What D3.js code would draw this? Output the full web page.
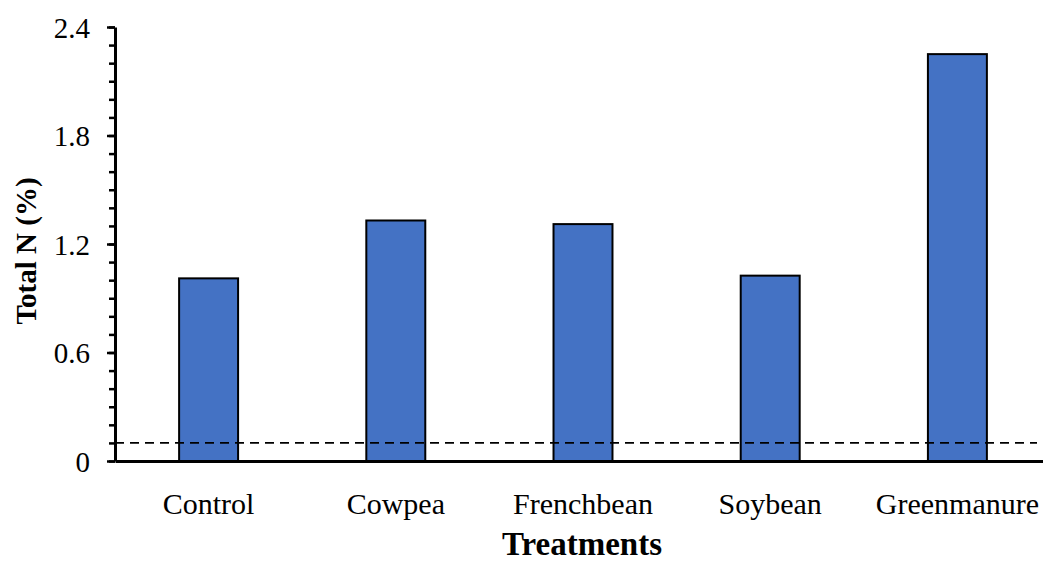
<!DOCTYPE html>
<meta charset="utf-8">
<script src="https://d3js.org/d3.v7.min.js"></script>
<style>
  body { margin: 0; background: #fff; }
  text { font-family: "Liberation Serif", "Times New Roman", serif; fill: #000; }
</style>
<div id="chart"></div>
<script>
  // data
  var treatments = ["Control", "Cowpea", "Frenchbean", "Soybean", "Greenmanure"];
  var totalN = [1.01, 1.33, 1.31, 1.025, 2.25];
  var yTicks = [0, 0.6, 1.2, 1.8, 2.4];
  var yMinorTicks = d3.range(0, 25).map(function(i) { return i / 10; });
  var threshold = 0.1;

  var W = 1043, H = 563;
  var margin = {top: 27, left: 115, bottom: 102};
  var plotW = 936, plotH = H - margin.top - margin.bottom;

  var svg = d3.select("#chart").append("svg")
      .attr("width", W)
      .attr("height", H);

  var g = svg.append("g")
      .attr("transform", "translate(" + margin.left + "," + margin.top + ")");

  var x = d3.scaleBand()
      .domain(treatments)
      .range([0, plotW])
      .paddingInner(0.685)
      .paddingOuter(0.3425);

  var y = d3.scaleLinear()
      .domain([0, 2.4])
      .range([plotH, 0]);

  // bars
  g.selectAll("rect.bar")
    .data(treatments)
    .enter()
    .append("rect")
      .attr("class", "bar")
      .attr("x", function(d) { return x(d); })
      .attr("y", function(d, i) { return y(totalN[i]); })
      .attr("width", x.bandwidth())
      .attr("height", function(d, i) { return y(0) - y(totalN[i]); })
      .style("fill", "#4472C4")
      .style("stroke", "#000")
      .style("stroke-width", 2);

  // dashed reference line
  g.append("line")
      .attr("x1", 0)
      .attr("x2", 922)
      .attr("y1", y(threshold))
      .attr("y2", y(threshold))
      .style("stroke", "#000")
      .style("stroke-width", 1.6)
      .style("stroke-dasharray", "9,6");

  // minor y ticks
  g.append("g")
      .call(d3.axisLeft(y).tickValues(yMinorTicks).tickSize(6).tickFormat(""))
      .call(function(a) {
        a.select(".domain").remove();
        a.selectAll("line").style("stroke-width", 2.5);
      });

  // y axis with major ticks
  g.append("g")
      .call(d3.axisLeft(y).tickValues(yTicks).tickSizeInner(8).tickSizeOuter(0)
              .tickPadding(17).tickFormat(function(d) { return d === 0 ? "0" : d3.format(".1f")(d); }))
      .call(function(a) {
        a.select(".domain").style("stroke-width", 3);
        a.selectAll("line").style("stroke-width", 2.5);
        a.selectAll("text")
          .attr("dy", "0.35em")
          .style("font-family", "'Liberation Serif', serif")
          .style("font-size", "29px");
      });

  // x axis
  g.append("g")
      .attr("transform", "translate(0," + plotH + ")")
      .call(d3.axisBottom(x).tickSizeInner(0).tickSizeOuter(0).tickPadding(32))
      .call(function(a) {
        a.select(".domain").style("stroke-width", 3);
        a.selectAll("text")
          .style("font-family", "'Liberation Serif', serif")
          .style("font-size", "30px");
      });

  // axis titles
  svg.append("text")
      .attr("x", 582)
      .attr("y", 555)
      .attr("text-anchor", "middle")
      .style("font-size", "33px")
      .style("font-weight", "bold")
      .text("Treatments");

  svg.append("text")
      .attr("transform", "translate(36,251) rotate(-90)")
      .attr("text-anchor", "middle")
      .style("font-size", "29px")
      .style("font-weight", "bold")
      .text("Total N (%)");
</script>
